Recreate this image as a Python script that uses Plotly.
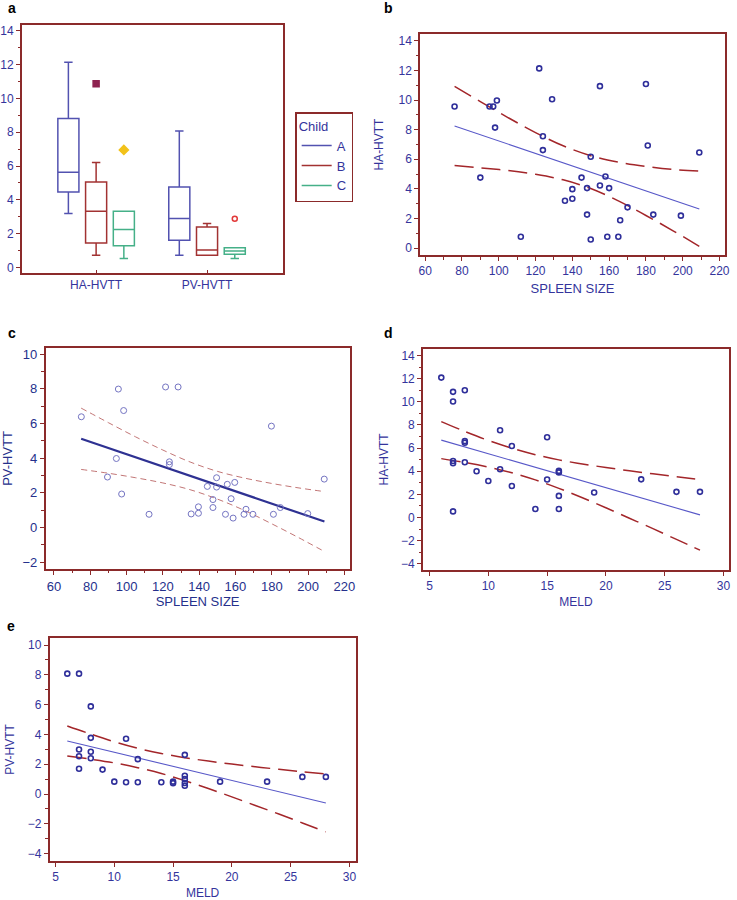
import plotly.graph_objects as go

# ---------------- Panel a: box plots by Child class ----------------
measures = ["HA-HVTT", "PV-HVTT"]
child_classes = ["A", "B", "C"]
q1_A, q1_B, q1_C = [4.46, 1.61], [1.45, 0.72], [1.29, 0.78]
median_A, median_B, median_C = [5.64, 2.90], [3.33, 1.04], [2.25, 0.98]
q3_A, q3_B, q3_C = [8.81, 4.76], [5.05, 2.39], [3.33, 1.17]
low_A, low_B, low_C = [3.19, 0.72], [0.72, 0.72], [0.53, 0.53]
high_A, high_B, high_C = [12.14, 8.07], [6.21, 2.60], [3.33, 1.17]
outlier_measure = ["HA-HVTT", "HA-HVTT", "PV-HVTT"]
outlier_child = ["B", "C", "C"]
outlier_value = [10.87, 6.95, 2.88]

# ---------------- Panel b: spleen size vs HA-HVTT ----------------
spleen_b = [76, 90, 95, 97, 99, 98, 112, 122, 124, 124, 129, 136, 140, 140, 145, 148,
            148, 150, 150, 155, 155, 158, 159, 160, 165, 166, 170, 180, 181, 184, 199, 209]
ha_b = [9.57, 4.76, 9.57, 9.57, 9.97, 8.14, 0.76, 12.14, 7.56, 6.62, 10.06, 3.20, 3.98, 3.33,
        4.76, 4.05, 2.26, 0.58, 6.17, 4.23, 10.94, 4.83, 0.76, 4.05, 0.76, 1.88, 2.75, 11.09,
        6.93, 2.26, 2.19, 6.46]
fit_b_x = [76, 209]
fit_b_y = [8.25, 2.64]
ci_b_x = [76, 90, 105, 120, 135, 150, 165, 180, 195, 209]
ci_b_upper = [10.93, 9.90, 8.82, 7.80, 6.91, 6.24, 5.81, 5.52, 5.31, 5.20]
ci_b_lower = [5.57, 5.42, 5.24, 4.98, 4.61, 4.02, 3.19, 2.20, 1.15, 0.12]

# ---------------- Panel c: spleen size vs PV-HVTT ----------------
spleen_c = [75.1, 89.5, 94.4, 95.5, 97.3, 98.4, 112.4, 121.5, 128.4, 123.6, 123.6, 135.6,
            139.6, 139.6, 144.5, 147.6, 147.6, 149.6, 149.6, 154.5, 155.5, 157.6, 158.7,
            159.6, 164.7, 165.8, 169.6, 179.8, 180.9, 184.7, 199.8, 208.9]
pv_c = [6.39, 2.91, 3.98, 7.99, 1.93, 6.75, 0.76, 8.11, 8.11, 3.79, 3.63, 0.78, 1.19, 0.82,
        2.37, 1.61, 1.15, 2.87, 2.33, 0.76, 2.49, 1.66, 0.54, 2.60, 0.76, 1.05, 0.76, 5.85,
        0.76, 1.15, 0.80, 2.79]
fit_c_x = [75, 209]
fit_c_y = [5.12, 0.34]
ci_c_x = [75, 90, 105, 120, 135, 150, 165, 180, 195, 209]
ci_c_upper = [6.89, 6.05, 5.23, 4.47, 3.78, 3.24, 2.85, 2.54, 2.28, 2.07]
ci_c_lower = [3.35, 3.13, 2.87, 2.57, 2.18, 1.64, 0.98, 0.21, -0.60, -1.39]

# ---------------- Panel d: MELD vs HA-HVTT ----------------
meld_d = [6, 7, 7, 8, 7, 7, 7, 8, 8, 8, 9, 10, 11, 11, 12, 12, 14, 15, 15, 16, 16, 16, 16,
          19, 23, 26, 28]
ha_d = [12.09, 10.86, 10.02, 11.00, 4.89, 4.69, 0.53, 6.60, 6.46, 4.78, 4.00, 3.16, 7.54,
        4.17, 6.18, 2.72, 0.74, 6.94, 3.29, 4.03, 3.90, 1.87, 0.74, 2.16, 3.30, 2.22, 2.22]
fit_d_x = [6, 28]
fit_d_y = [6.69, 0.23]
ci_d_x = [6, 8, 10, 12, 14, 16, 18, 20, 22, 24, 26, 28]
ci_d_upper = [8.29, 7.44, 6.66, 5.99, 5.43, 4.98, 4.63, 4.32, 4.04, 3.78, 3.53, 3.28]
ci_d_lower = [5.09, 4.76, 4.36, 3.87, 3.25, 2.52, 1.71, 0.84, -0.06, -0.96, -1.89, -2.82]

# ---------------- Panel e: MELD vs PV-HVTT ----------------
meld_e = [6, 7, 8, 8, 7, 7, 7, 8, 8, 9, 10, 11, 11, 12, 12, 14, 15, 15, 16, 16, 16, 16, 16,
          19, 23, 26, 28]
pv_e = [8.08, 8.08, 5.88, 3.77, 2.99, 2.54, 1.70, 2.84, 2.40, 1.64, 0.83, 3.71, 0.79, 2.34,
        0.79, 0.79, 0.83, 0.73, 2.63, 1.23, 1.00, 0.74, 0.56, 0.83, 0.83, 1.15, 1.15]
fit_e_x = [6, 28]
fit_e_y = [3.56, -0.60]
ci_e_x = [6, 8, 10, 12, 14, 16, 18, 20, 22, 24, 26, 28]
ci_e_upper = [4.57, 4.02, 3.51, 3.07, 2.72, 2.44, 2.21, 2.01, 1.83, 1.66, 1.50, 1.34]
ci_e_lower = [2.56, 2.34, 2.09, 1.77, 1.38, 0.90, 0.37, -0.19, -0.77, -1.34, -1.94, -2.54]

# ---------------- Styles ----------------
W, H = 737, 900
FONT = "Liberation Sans, Arial, sans-serif"
FRAME = "#8b2a2a"
TEXT = "#34349c"
CHILD_COLORS = {"A": "#5252b0", "B": "#a23232", "C": "#45b088"}
OUTLIER_STYLE = {
    ("B", "HA-HVTT"): dict(symbol="square", color="#8e2250", size=6),
    ("C", "HA-HVTT"): dict(symbol="diamond", color="#f2c21a", size=7),
    ("C", "PV-HVTT"): dict(symbol="circle-open", color="#e23a3a", size=5),
}
GROUP_POS = {"HA-HVTT": 1, "PV-HVTT": 2}
CHILD_OFFSET = {"A": -0.25, "B": 0.0, "C": 0.25}
POINT_COLOR = "#2f2f9a"
FIT_COLOR = "#5858c8"
CI_COLOR = "#a3262a"


def px_dom_x(a, b):
    return [a / W, b / W]


def px_dom_y(top, bottom):
    return [1 - bottom / H, 1 - top / H]


def axis(domain, rng, anchor, dtick=None, tick0=None, minor=None, title=None,
         standoff=None, size=12, color=TEXT, title_size=12, **kw):
    d = dict(domain=domain, range=rng, anchor=anchor, showline=True, linecolor=FRAME,
             linewidth=1.5, mirror=True, ticks="outside", tickcolor=FRAME, ticklen=4,
             tickwidth=1, showgrid=False, zeroline=False,
             tickfont=dict(family=FONT, size=size, color=color))
    if dtick is not None:
        d["dtick"] = dtick
        d["tick0"] = tick0 if tick0 is not None else 0
    if minor is not None:
        d["minor"] = dict(ticks="outside", ticklen=2.5, tickcolor=FRAME, tickwidth=1,
                          dtick=minor, tick0=0, showgrid=False)
    if title is not None:
        d["title"] = dict(text=title, font=dict(family=FONT, size=title_size, color=color),
                          standoff=standoff)
    d.update(kw)
    return d


fig = go.Figure()

# ---- panel a boxes ----
stats = {
    "A": (q1_A, median_A, q3_A, low_A, high_A),
    "B": (q1_B, median_B, q3_B, low_B, high_B),
    "C": (q1_C, median_C, q3_C, low_C, high_C),
}
for ch in child_classes:
    q1, med, q3, lo, hi = stats[ch]
    fig.add_trace(go.Box(
        x=[GROUP_POS[m] + CHILD_OFFSET[ch] for m in measures],
        q1=q1, median=med, q3=q3, lowerfence=lo, upperfence=hi,
        width=0.19, whiskerwidth=0.4, boxpoints=False,
        line=dict(color=CHILD_COLORS[ch], width=1.5),
        fillcolor="rgba(0,0,0,0)", showlegend=False, hoverinfo="skip",
        xaxis="x", yaxis="y"))
    # legend entry drawn as a line, as in the reference
    fig.add_trace(go.Scatter(x=[None], y=[None], mode="lines", name=ch,
                             line=dict(color=CHILD_COLORS[ch], width=1.5),
                             xaxis="x", yaxis="y"))

for m, ch, v in zip(outlier_measure, outlier_child, outlier_value):
    st = OUTLIER_STYLE[(ch, m)]
    fig.add_trace(go.Scatter(
        x=[GROUP_POS[m] + CHILD_OFFSET[ch]], y=[v], mode="markers",
        marker=dict(symbol=st["symbol"], color=st["color"], size=st["size"],
                    line=dict(color=st["color"], width=1.5)),
        showlegend=False, xaxis="x", yaxis="y"))


def scatter_panel(xs, ys, fx, fy, cx, cu, cl, xa, ya, thin=False):
    if thin:
        mk = dict(symbol="circle-open", size=6, color="#7474c2", line=dict(width=1, color="#7474c2"))
        fit_line = dict(color="#2e3192", width=2.2)
        ci_line = dict(color="#c27676", width=1, dash="6px,4px")
    else:
        mk = dict(symbol="circle-open", size=5, color=POINT_COLOR, line=dict(width=1.6, color=POINT_COLOR))
        fit_line = dict(color=FIT_COLOR, width=1.1)
        ci_line = dict(color=CI_COLOR, width=1.5, dash="19px,8px")
    fig.add_trace(go.Scatter(x=cx, y=cu, mode="lines", line=dict(shape="spline", **ci_line),
                             showlegend=False, xaxis=xa, yaxis=ya))
    fig.add_trace(go.Scatter(x=cx, y=cl, mode="lines", line=dict(shape="spline", **ci_line),
                             showlegend=False, xaxis=xa, yaxis=ya))
    fig.add_trace(go.Scatter(x=fx, y=fy, mode="lines", line=fit_line,
                             showlegend=False, xaxis=xa, yaxis=ya))
    fig.add_trace(go.Scatter(x=xs, y=ys, mode="markers", marker=mk,
                             showlegend=False, xaxis=xa, yaxis=ya))


scatter_panel(spleen_b, ha_b, fit_b_x, fit_b_y, ci_b_x, ci_b_upper, ci_b_lower, "x2", "y2")
scatter_panel(spleen_c, pv_c, fit_c_x, fit_c_y, ci_c_x, ci_c_upper, ci_c_lower, "x3", "y3", thin=True)
scatter_panel(meld_d, ha_d, fit_d_x, fit_d_y, ci_d_x, ci_d_upper, ci_d_lower, "x4", "y4")
scatter_panel(meld_e, pv_e, fit_e_x, fit_e_y, ci_e_x, ci_e_upper, ci_e_lower, "x5", "y5")

C_TEXT = "#25308c"
layout = dict(
    width=W, height=H, margin=dict(l=0, r=0, t=0, b=0),
    paper_bgcolor="white", plot_bgcolor="white", showlegend=True,
    font=dict(family=FONT, color=TEXT),
    # panel a
    xaxis=axis(px_dom_x(21, 285), [0.33, 2.6875], "y", ticks="inside", ticklen=3,
               tickmode="array", tickvals=[GROUP_POS[m] for m in measures], ticktext=measures),
    yaxis=axis(px_dom_y(24, 274), [-0.335, 14.35], "x", dtick=2, minor=1),
    # panel b
    xaxis2=axis(px_dom_x(423, 731), [57.2, 223.0], "y2", dtick=20, minor=10,
                title="SPLEEN SIZE", standoff=6, title_size=13),
    yaxis2=axis(px_dom_y(33, 256), [-0.49, 14.48], "x2", dtick=2, minor=1,
                title="HA-HVTT", standoff=12),
    # panel c
    xaxis3=axis(px_dom_x(45, 352), [55.4, 222.9], "y3", dtick=20, minor=10, size=13, color=C_TEXT,
                title="SPLEEN SIZE", standoff=4, title_size=13),
    yaxis3=axis(px_dom_y(349, 572), [-2.41, 10.38], "x3", dtick=2, minor=1, size=13, color=C_TEXT,
                title="PV-HVTT", standoff=8, title_size=13),
    # panel d
    xaxis4=axis(px_dom_x(426, 735), [4.44, 30.47], "y4", dtick=5, tick0=5,
                title="MELD", standoff=5),
    yaxis4=axis(px_dom_y(350, 573), [-4.55, 14.59], "x4", dtick=2, minor=1,
                title="HA-HVTT", standoff=10),
    # panel e
    xaxis5=axis(px_dom_x(49, 358), [4.49, 30.53], "y5", dtick=5, tick0=5,
                title="MELD", standoff=7),
    yaxis5=axis(px_dom_y(641, 866), [-4.51, 10.49], "x5", dtick=2, minor=1,
                title="PV-HVTT", standoff=10),
    legend=dict(x=297 / W, y=1 - 112 / H, xanchor="left", yanchor="top",
                bordercolor=FRAME, borderwidth=1.5, bgcolor="white",
                title=dict(text="Child", font=dict(family=FONT, size=13, color=TEXT)),
                font=dict(family=FONT, size=13, color=TEXT), itemwidth=30,
                tracegroupgap=0),
)
fig.update_layout(**layout)

for letter, (px, py) in zip("abcde", [(11, 7), (391, 7), (11, 334), (391, 334), (10, 629)]):
    fig.add_annotation(text=f"<b>{letter}</b>", x=px / W, y=1 - py / H, xref="paper", yref="paper",
                       xanchor="center", yanchor="middle", showarrow=False,
                       font=dict(family=FONT, size=14, color="black"))

fig.write_html("out.html", config={"displayModeBar": False},
               post_script="document.body.style.margin='0px';")
